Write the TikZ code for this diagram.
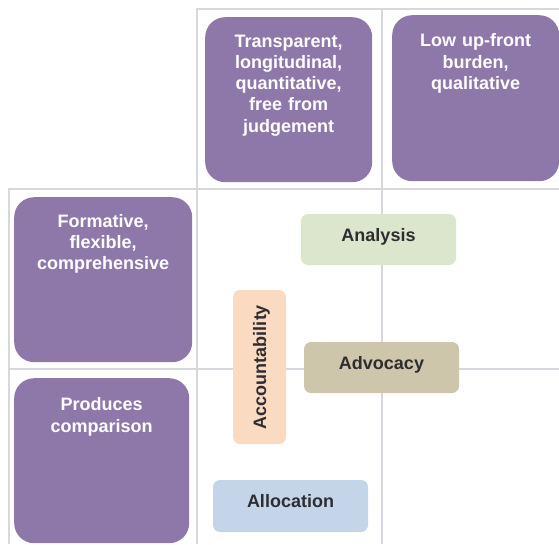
\documentclass[tikz,border=0pt]{standalone}
\usepackage{fontspec}
\setmainfont{Liberation Sans}
\usetikzlibrary{positioning}
\definecolor{gridgray}{RGB}{215,215,222}
\definecolor{purplebox}{RGB}{142,120,170}
\definecolor{analysisgreen}{RGB}{220,230,205}
\definecolor{accountpeach}{RGB}{250,218,192}
\definecolor{advocacytan}{RGB}{206,198,170}
\definecolor{allocationblue}{RGB}{196,213,233}
\definecolor{darktext}{RGB}{45,45,50}
\begin{document}
\begin{tikzpicture}[x=1pt,y=-1pt,
  gridline/.style={draw=gridgray,line width=1.5pt},
  quadbox/.style={fill=purplebox,rounded corners=20pt,inner sep=0pt,anchor=north west},
  quadtext/.style={text=white,font=\bfseries\fontsize{18}{21.3}\selectfont,align=center,inner sep=0pt,text width=150pt},
  rolebox/.style={fill=#1,rounded corners=7pt,inner sep=0pt,text=darktext,
    font=\bfseries\fontsize{18}{21}\selectfont,text height=13pt,text depth=10pt}]
 \useasboundingbox (0,0) rectangle (559,544);

 % grid of the quadrants
 \draw[gridline] (197,544) -- (197,9) -- (559,9);
 \draw[gridline] (382,9) -- (382,544);
 \draw[gridline] (9,544) -- (9,189) -- (559,189);
 \draw[gridline] (9,369) -- (559,369);

 % purple headers
 \node[quadbox,minimum width=167pt,minimum height=165pt] (trans) at (205,17) {};
 \node[quadtext,below=17.5pt of trans.north] (trans-txt) {Transparent,\\longitudinal,\\quantitative,\\free from\\judgement};
 \node[quadbox,minimum width=167pt,minimum height=166pt] (lowup) at (392,15) {};
 \node[quadtext,below=18.5pt of lowup.north] (lowup-txt) {Low up-front\\burden,\\qualitative};
 \node[quadbox,minimum width=178pt,minimum height=165pt] (form) at (14,197) {};
 \node[quadtext,text width=170pt,below=17pt of form.north] (form-txt) {Formative,\\flexible,\\comprehensive};
 \node[quadbox,minimum width=175pt,minimum height=165pt] (prod) at (14,378) {};
 \node[quadtext,below=19.5pt of prod.north] (prod-txt) {Produces\\comparison};

 % the four A's
 \node[rolebox=analysisgreen,minimum width=155pt,minimum height=51pt] (analysis) at (378.5,239.5) {Analysis};
 \node[rolebox=advocacytan,minimum width=155pt,minimum height=51pt] (advocacy) at (381.5,367.5) {Advocacy};
 \node[rolebox=allocationblue,minimum width=155pt,minimum height=52pt] (allocation) at (290.5,506) {Allocation};
 \node[rolebox=accountpeach,text depth=0pt,rotate=90,minimum width=154pt,minimum height=53pt] (account) at (259.5,367) {Accountability};
\end{tikzpicture}
\end{document}
